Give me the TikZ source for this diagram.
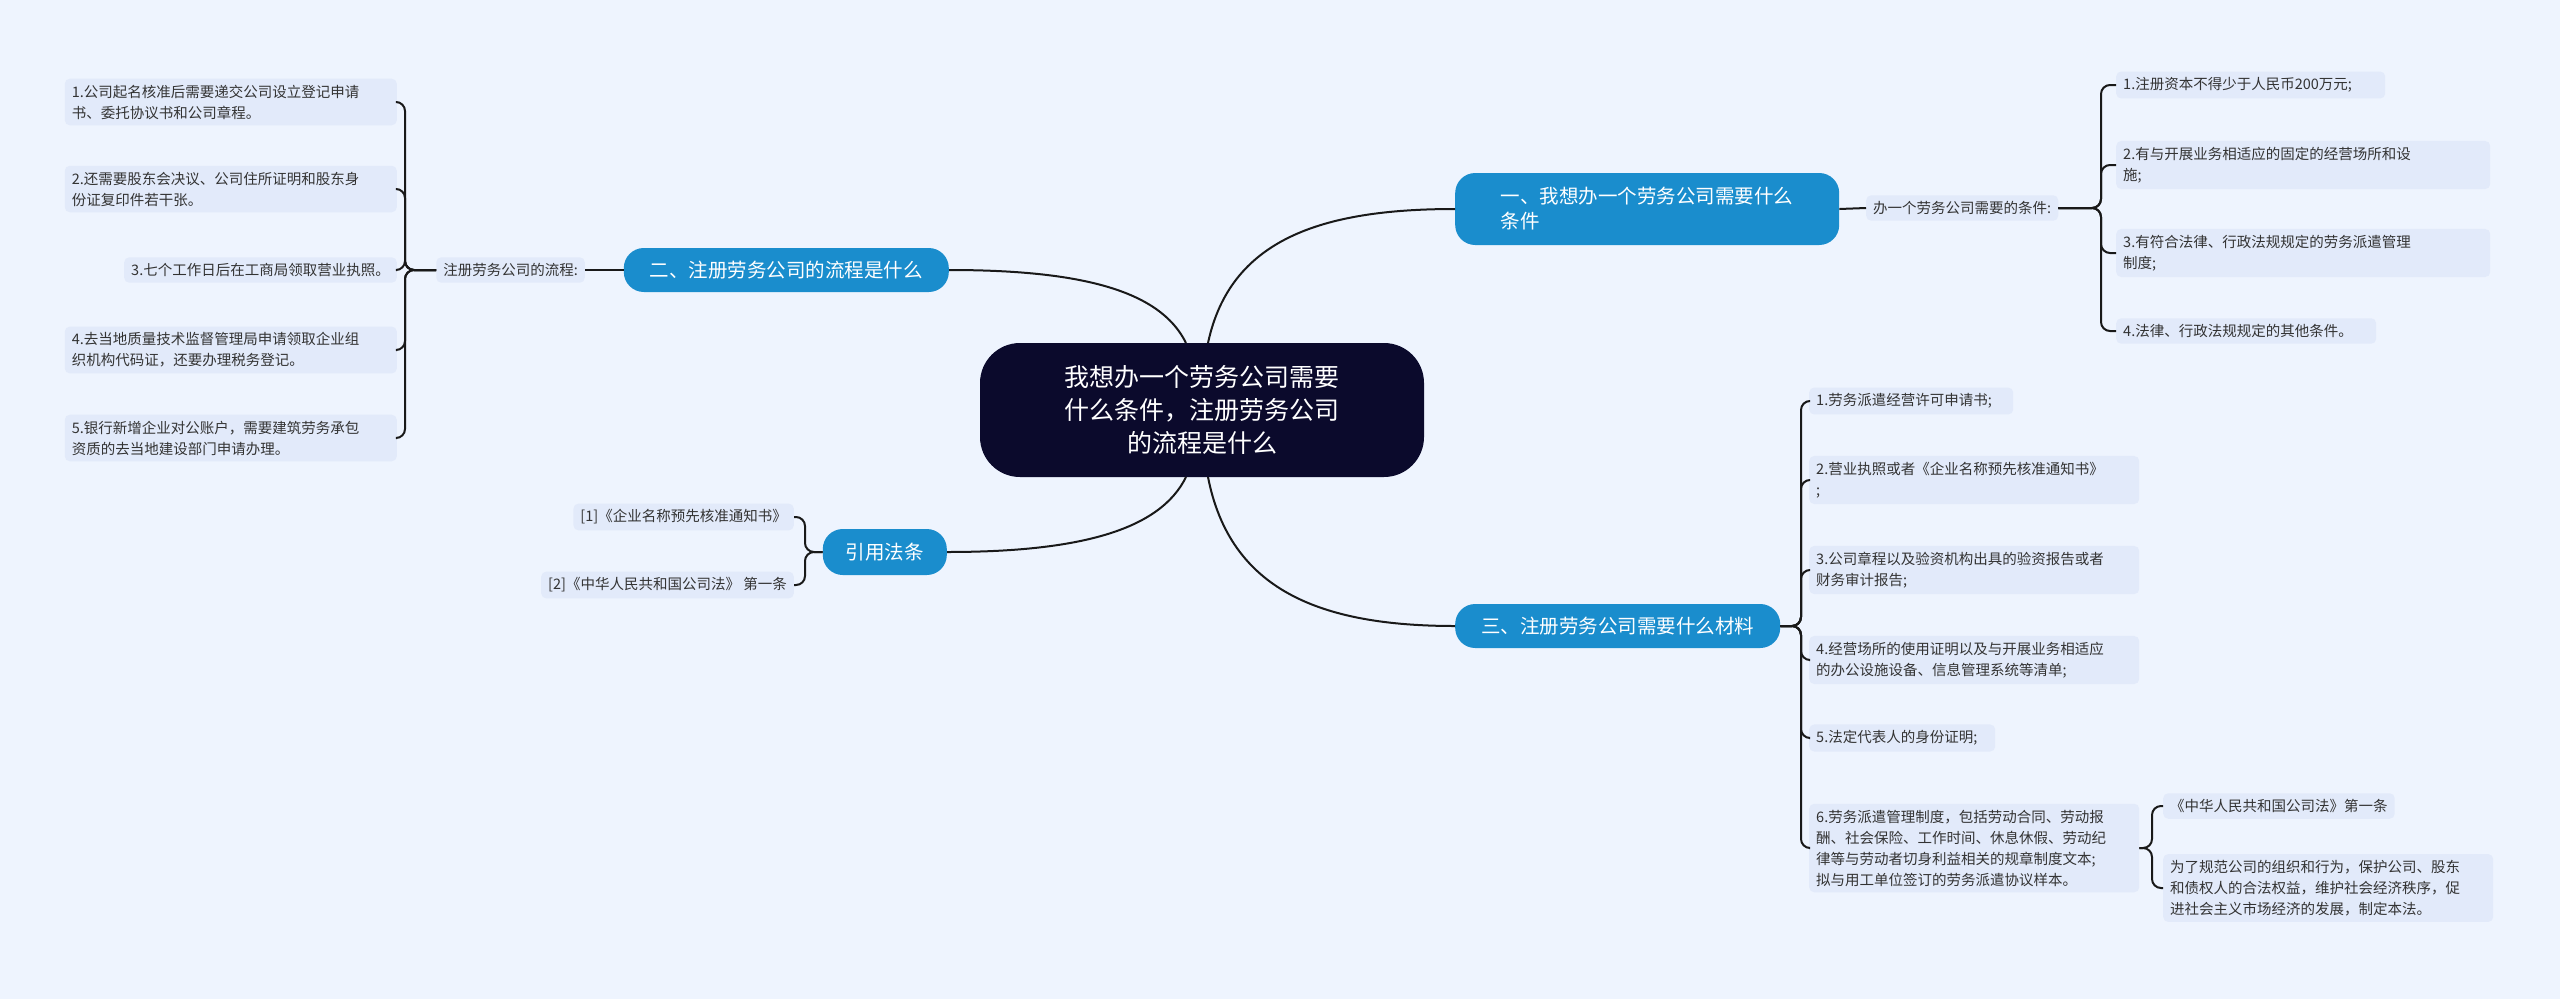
\documentclass[tikz,border=0pt]{standalone}
\usepackage{fontspec}
\setmainfont{Noto Sans CJK SC}
\begin{document}
\begin{tikzpicture}[x=1pt,y=-1pt,
  item/.style={fill=itembg,rounded corners=5pt,align=left,font=\fontsize{14.5}{21}\selectfont,text=black!80,inner xsep=7pt,inner ysep=6pt},
  branch/.style={fill=bblue,rounded corners=20pt,text=white,align=left,font=\fontsize{19.5}{25}\selectfont,inner xsep=18pt,inner ysep=9pt},
  conn/.style={draw=black!90,line width=2pt},
  brk/.style={conn,rounded corners=9pt}]
\definecolor{bgc}{HTML}{EEF4FE}
\definecolor{itembg}{HTML}{E2EAFA}
\definecolor{bblue}{HTML}{1A8DCD}
\definecolor{navy}{HTML}{0B0A2C}
\fill[bgc] (0,0) rectangle (2560,999);
\useasboundingbox (0,0) rectangle (2560,999);
% center
\node[fill=navy,rounded corners=40pt,text=white,align=center,font=\fontsize{25}{33}\selectfont,minimum width=444pt,minimum height=134pt] (c) at (1202,410) {我想办一个劳务公司需要\\什么条件，注册劳务公司\\的流程是什么};
% branches
\node[branch,anchor=west,minimum width=384pt,minimum height=72pt] (b1) at (1455,209) {一、我想办一个劳务公司需要什么\\条件};
\node[branch,anchor=east,minimum width=325pt,minimum height=44pt] (b2) at (949,270) {二、注册劳务公司的流程是什么};
\node[branch,anchor=east,minimum width=124pt,minimum height=46pt,align=center,inner xsep=10pt] (b4) at (947,552) {引用法条};
\node[branch,anchor=west,minimum width=325pt,minimum height=44pt] (b3) at (1455,626) {三、注册劳务公司需要什么材料};
\coordinate (cr1) at (1208,343);
\coordinate (cr2) at (1208,477);
\coordinate (cl1) at (1186,343);
\coordinate (cl2) at (1186,477);
\draw[conn] (cr1) .. controls (1230,240) and (1320,209) .. (b1.west);
\draw[conn] (cr2) .. controls (1230,590) and (1320,626) .. (b3.west);
\draw[conn] (cl1) .. controls (1160,290) and (1080,270) .. (b2.east);
\draw[conn] (cl2) .. controls (1160,530) and (1080,552) .. (b4.east);
% branch 1
\node[item,anchor=west] (l1) at (1866,208) {办一个劳务公司需要的条件:};
\node[item,anchor=west,text width=255pt] (r11) at (2116,85) {1.注册资本不得少于人民币200万元;};
\node[item,anchor=west,text width=360pt] (r12) at (2116,165) {2.有与开展业务相适应的固定的经营场所和设\\施;};
\node[item,anchor=west,text width=360pt] (r13) at (2116,253) {3.有符合法律、行政法规规定的劳务派遣管理\\制度;};
\node[item,anchor=west,text width=246pt] (r14) at (2116,331) {4.法律、行政法规规定的其他条件。};
\draw[conn] (b1.east) -- (l1.west);
\foreach \n in {r11,r12,r13,r14}{\draw[brk] (l1.east) -- (2101,208) |- (\n.west);}
% branch 2
\node[item,anchor=east] (l2) at (585,270) {注册劳务公司的流程:};
\node[item,anchor=east,text width=318pt] (r21) at (397,102) {1.公司起名核准后需要递交公司设立登记申请\\书、委托协议书和公司章程。};
\node[item,anchor=east,text width=318pt] (r22) at (397,189) {2.还需要股东会决议、公司住所证明和股东身\\份证复印件若干张。};
\node[item,anchor=east] (r23) at (397,270) {3.七个工作日后在工商局领取营业执照。};
\node[item,anchor=east,text width=318pt] (r24) at (397,350) {4.去当地质量技术监督管理局申请领取企业组\\织机构代码证，还要办理税务登记。};
\node[item,anchor=east,text width=318pt] (r25) at (397,438) {5.银行新增企业对公账户，需要建筑劳务承包\\资质的去当地建设部门申请办理。};
\draw[conn] (b2.west) -- (l2.east);
\foreach \n in {r21,r22,r23,r24,r25}{\draw[brk] (l2.west) -- (405,270) |- (\n.east);}
% branch 4
\node[item,anchor=east] (r41) at (794,517) {[1]《企业名称预先核准通知书》};
\node[item,anchor=east] (r42) at (794,585) {[2]《中华人民共和国公司法》 第一条};
\foreach \n in {r41,r42}{\draw[brk] (b4.west) -- (805,552) |- (\n.east);}
% branch 3
\node[item,anchor=west,text width=190pt] (r31) at (1809,401) {1.劳务派遣经营许可申请书;};
\node[item,anchor=west,text width=316pt] (r32) at (1809,480) {2.营业执照或者《企业名称预先核准通知书》\\;};
\node[item,anchor=west,text width=316pt] (r33) at (1809,570) {3.公司章程以及验资机构出具的验资报告或者\\财务审计报告;};
\node[item,anchor=west,text width=316pt] (r34) at (1809,660) {4.经营场所的使用证明以及与开展业务相适应\\的办公设施设备、信息管理系统等清单;};
\node[item,anchor=west,text width=172pt] (r35) at (1809,738) {5.法定代表人的身份证明;};
\node[item,anchor=west,text width=316pt] (r36) at (1809,848) {6.劳务派遣管理制度，包括劳动合同、劳动报\\酬、社会保险、工作时间、休息休假、劳动纪\\律等与劳动者切身利益相关的规章制度文本;\\拟与用工单位签订的劳务派遣协议样本。};
\foreach \n in {r31,r32,r33,r34,r35,r36}{\draw[brk] (b3.east) -- (1801,626) |- (\n.west);}
\node[item,anchor=west] (s1) at (2163,806) {《中华人民共和国公司法》第一条};
\node[item,anchor=west,text width=316pt] (s2) at (2163,888) {为了规范公司的组织和行为，保护公司、股东\\和债权人的合法权益，维护社会经济秩序，促\\进社会主义市场经济的发展，制定本法。};
\foreach \n in {s1,s2}{\draw[brk] (r36.east) -- (2152,848) |- (\n.west);}
\end{tikzpicture}
\end{document}
